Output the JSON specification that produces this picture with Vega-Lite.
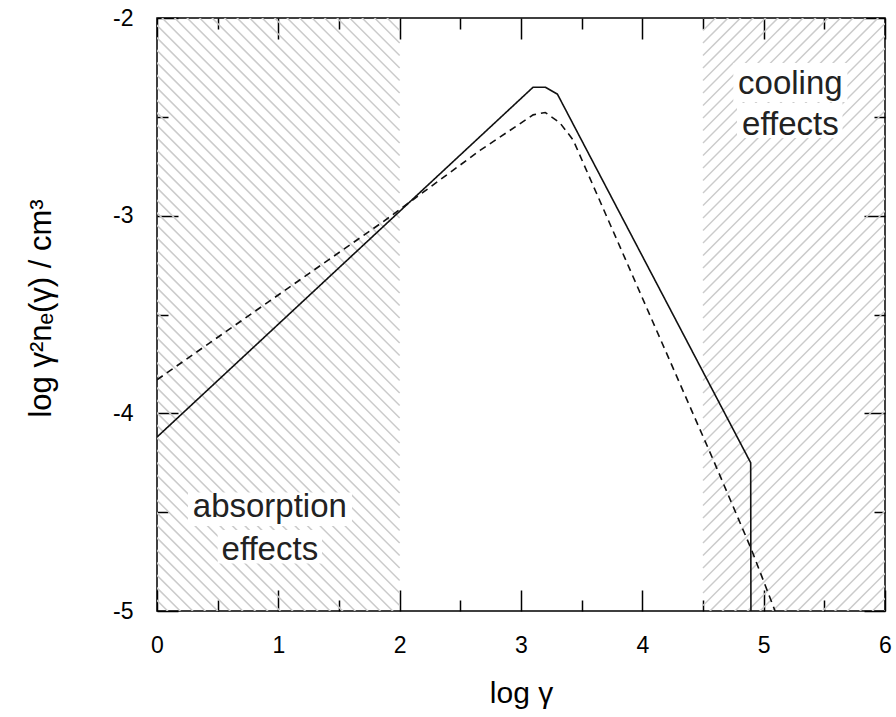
{
  "$schema": "https://vega.github.io/schema/vega-lite/v6.json",
  "width": 728,
  "height": 593,
  "autosize": "none",
  "padding": {"left": 157, "top": 18, "right": 11, "bottom": 106},
  "background": "white",
  "config": {"view": {"stroke": "#000", "strokeWidth": 1.5}, "font": "Liberation Sans"},
  "resolve": {"axis": {"x": "independent", "y": "independent"}},
  "datasets": {
    "hatch": [
      {"h": -2.0}, {"h": -2.0632}, {"h": -2.1265}, {"h": -2.1897}, {"h": -2.253}, {"h": -2.3162}, {"h": -2.3794}, {"h": -2.4427}, {"h": -2.5059}, {"h": -2.5691},
      {"h": -2.6324}, {"h": -2.6956}, {"h": -2.7589}, {"h": -2.8221}, {"h": -2.8853}, {"h": -2.9486}, {"h": -3.0118}, {"h": -3.075}, {"h": -3.1383}, {"h": -3.2015},
      {"h": -3.2648}, {"h": -3.328}, {"h": -3.3912}, {"h": -3.4545}, {"h": -3.5177}, {"h": -3.5809}, {"h": -3.6442}, {"h": -3.7074}, {"h": -3.7707}, {"h": -3.8339},
      {"h": -3.8971}, {"h": -3.9604}, {"h": -4.0236}, {"h": -4.0868}, {"h": -4.1501}, {"h": -4.2133}, {"h": -4.2766}, {"h": -4.3398}, {"h": -4.403}, {"h": -4.4663},
      {"h": -4.5295}, {"h": -4.5927}, {"h": -4.656}, {"h": -4.7192}, {"h": -4.7825}, {"h": -4.8457}, {"h": -4.9089}, {"h": -4.9722}, {"h": -5.0354}, {"h": -5.0986},
      {"h": -5.1619}, {"h": -5.2251}, {"h": -5.2884}, {"h": -5.3516}, {"h": -5.4148}, {"h": -5.4781}, {"h": -5.5413}, {"h": -5.6045}, {"h": -5.6678}, {"h": -5.731},
      {"h": -5.7943}, {"h": -5.8575}, {"h": -5.9207}, {"h": -5.984}, {"h": -6.0472}, {"h": -6.1104}, {"h": -6.1737}, {"h": -6.2369}
    ],
    "curves": [
      {"s": "solid", "i": 0, "x": 0, "y": -4.12},
      {"s": "solid", "i": 1, "x": 3.1, "y": -2.35},
      {"s": "solid", "i": 2, "x": 3.2, "y": -2.35},
      {"s": "solid", "i": 3, "x": 3.3, "y": -2.385},
      {"s": "solid", "i": 4, "x": 4.893, "y": -4.25},
      {"s": "solid", "i": 5, "x": 4.895, "y": -5.0},
      {"s": "dashed", "i": 0, "x": 0, "y": -3.83},
      {"s": "dashed", "i": 1, "x": 1.865, "y": -3.03},
      {"s": "dashed", "i": 2, "x": 2.662, "y": -2.67},
      {"s": "dashed", "i": 3, "x": 3.1, "y": -2.49},
      {"s": "dashed", "i": 4, "x": 3.2, "y": -2.478},
      {"s": "dashed", "i": 5, "x": 3.32, "y": -2.53},
      {"s": "dashed", "i": 6, "x": 3.43, "y": -2.617},
      {"s": "dashed", "i": 7, "x": 4.585, "y": -4.236},
      {"s": "dashed", "i": 8, "x": 4.9, "y": -4.69},
      {"s": "dashed", "i": 9, "x": 5.094, "y": -5.0}
    ],
    "boxes": [
      {"x": 0.255, "x2": 1.607, "y": -4.40, "y2": -4.57},
      {"x": 0.50, "x2": 1.36, "y": -4.59, "y2": -4.76},
      {"x": 4.75, "x2": 5.69, "y": -2.228, "y2": -2.425},
      {"x": 4.78, "x2": 5.65, "y": -2.43, "y2": -2.607}
    ],
    "labels": [
      {"x": 0.93, "y": -4.524, "t": "absorption"},
      {"x": 0.93, "y": -4.742, "t": "effects"},
      {"x": 5.22, "y": -2.3845, "t": "cooling"},
      {"x": 5.22, "y": -2.592, "t": "effects"}
    ]
  },
  "layer": [
    {
      "data": {"name": "hatch"},
      "mark": {"type": "rule", "clip": true, "color": "#cbcbcb", "strokeWidth": 1.5, "x2Offset": -850, "y2Offset": -850},
      "encoding": {
        "x": {"datum": 2, "type": "quantitative", "scale": {"domain": [0, 6], "nice": false, "zero": false}, "axis": null},
        "x2": {"datum": 2},
        "y": {"field": "h", "type": "quantitative", "scale": {"domain": [-5, -2], "nice": false, "zero": false}, "axis": null},
        "y2": {"field": "h"}
      }
    },
    {
      "data": {"name": "hatch"},
      "mark": {"type": "rule", "clip": true, "color": "#cbcbcb", "strokeWidth": 1.5, "x2Offset": 850, "y2Offset": -850},
      "encoding": {
        "x": {"datum": 4.5, "type": "quantitative", "scale": {"domain": [0, 6], "nice": false, "zero": false}, "axis": null},
        "x2": {"datum": 4.5},
        "y": {"field": "h", "type": "quantitative", "scale": {"domain": [-5, -2], "nice": false, "zero": false}, "axis": null},
        "y2": {"field": "h"}
      }
    },
    {
      "data": {"name": "curves"},
      "mark": {"type": "line", "color": "#111", "strokeWidth": 1.6, "clip": true},
      "encoding": {
        "x": {"field": "x", "type": "quantitative", "scale": {"domain": [0, 6], "nice": false, "zero": false},
          "axis": {"orient": "bottom", "values": [0, 0.5, 1, 1.5, 2, 2.5, 3, 3.5, 4, 4.5, 5, 5.5, 6],
            "labelExpr": "datum.value % 1 === 0 ? '' + datum.value : ''",
            "tickSize": {"condition": {"test": "datum.value % 1 === 0", "value": -21}, "value": -11},
            "tickColor": "#000", "tickWidth": 1.5, "domain": false, "grid": false,
            "labelFont": "Liberation Sans", "labelFontSize": 23, "labelColor": "#000", "labelPadding": 44,
            "labelOverlap": false, "labelFlush": false,
            "title": "log γ", "titleFont": "Liberation Sans", "titleFontSize": 30, "titleFontWeight": "normal",
            "titleColor": "#000", "titleY": 91, "titleBaseline": "alphabetic"}},
        "y": {"field": "y", "type": "quantitative", "scale": {"domain": [-5, -2], "nice": false, "zero": false},
          "axis": {"orient": "left", "values": [-5, -4.5, -4, -3.5, -3, -2.5, -2],
            "labelExpr": "datum.value % 1 === 0 ? '' + datum.value : ''",
            "tickSize": {"condition": {"test": "datum.value % 1 === 0", "value": -21}, "value": -11},
            "tickColor": "#000", "tickWidth": 1.5, "domain": false, "grid": false,
            "labelFont": "Liberation Sans", "labelFontSize": 23, "labelColor": "#000", "labelPadding": 45,
            "labelOverlap": false, "labelFlush": false,
            "title": "log  γ²nₑ(γ) / cm³", "titleFont": "Liberation Sans", "titleFontSize": 31, "titleFontWeight": "normal",
            "titleColor": "#000", "titleX": -107, "titleY": 290, "titleBaseline": "alphabetic", "titleAngle": -90, "titleAlign": "center"}},
        "detail": {"field": "s"},
        "order": {"field": "i", "type": "quantitative"},
        "strokeDash": {"field": "s", "type": "nominal", "scale": {"domain": ["solid", "dashed"], "range": [[1, 0], [7, 5]]}, "legend": null}
      }
    },
    {
      "data": {"name": "boxes"},
      "mark": {"type": "rect", "fill": "white", "stroke": null},
      "encoding": {
        "x": {"field": "x", "type": "quantitative", "scale": {"domain": [0, 6], "nice": false, "zero": false},
          "axis": {"orient": "top", "values": [0, 0.5, 1, 1.5, 2, 2.5, 3, 3.5, 4, 4.5, 5, 5.5, 6], "labels": false,
            "tickSize": {"condition": {"test": "datum.value % 1 === 0", "value": -21}, "value": -11},
            "tickColor": "#000", "tickWidth": 1.5, "domain": false, "grid": false, "title": null}},
        "x2": {"field": "x2"},
        "y": {"field": "y", "type": "quantitative", "scale": {"domain": [-5, -2], "nice": false, "zero": false},
          "axis": {"orient": "right", "values": [-5, -4.5, -4, -3.5, -3, -2.5, -2], "labels": false,
            "tickSize": {"condition": {"test": "datum.value % 1 === 0", "value": -21}, "value": -11},
            "tickColor": "#000", "tickWidth": 1.5, "domain": false, "grid": false, "title": null}},
        "y2": {"field": "y2"}
      }
    },
    {
      "data": {"name": "labels"},
      "mark": {"type": "text", "font": "Liberation Sans", "fontSize": 33, "color": "#222", "align": "center", "baseline": "alphabetic"},
      "encoding": {
        "x": {"field": "x", "type": "quantitative", "scale": {"domain": [0, 6], "nice": false, "zero": false}, "axis": null},
        "y": {"field": "y", "type": "quantitative", "scale": {"domain": [-5, -2], "nice": false, "zero": false}, "axis": null},
        "text": {"field": "t"}
      }
    }
  ]
}
